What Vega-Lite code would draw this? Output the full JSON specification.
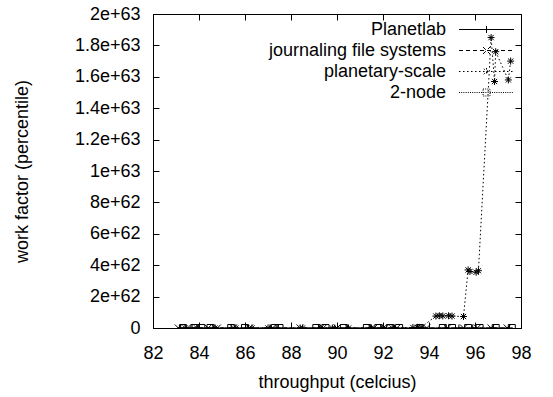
{
  "$schema": "https://vega.github.io/schema/vega-lite/v6.json",
  "width": 368,
  "height": 314,
  "autosize": "none",
  "padding": {"left": 153, "top": 14, "right": 32, "bottom": 69},
  "background": "white",
  "config": {
    "view": {"stroke": "black", "strokeWidth": 1},
    "font": "Liberation Sans",
    "axis": {"grid": false, "domainColor": "black", "tickColor": "black", "labelColor": "black", "titleColor": "black", "labelFont": "Liberation Sans", "titleFont": "Liberation Sans", "labelFontSize": 18, "titleFontSize": 18, "titleFontWeight": "normal", "tickSize": -6, "domainWidth": 1, "tickWidth": 1}
  },
  "data": {"values": [
    {"series": "Planetlab", "i": 1, "x": 83.2, "y": 0},
    {"series": "Planetlab", "i": 2, "x": 83.7, "y": 0},
    {"series": "Planetlab", "i": 3, "x": 84.0, "y": 0},
    {"series": "Planetlab", "i": 4, "x": 84.6, "y": 0},
    {"series": "Planetlab", "i": 5, "x": 85.4, "y": 0},
    {"series": "Planetlab", "i": 6, "x": 86.1, "y": 0},
    {"series": "Planetlab", "i": 7, "x": 87.1, "y": 0},
    {"series": "Planetlab", "i": 8, "x": 87.4, "y": 0},
    {"series": "Planetlab", "i": 9, "x": 88.4, "y": 0},
    {"series": "Planetlab", "i": 10, "x": 89.2, "y": 0},
    {"series": "Planetlab", "i": 11, "x": 89.9, "y": 0},
    {"series": "Planetlab", "i": 12, "x": 90.4, "y": 0},
    {"series": "Planetlab", "i": 13, "x": 91.4, "y": 0},
    {"series": "Planetlab", "i": 14, "x": 91.9, "y": 0},
    {"series": "Planetlab", "i": 15, "x": 92.5, "y": 0},
    {"series": "Planetlab", "i": 16, "x": 93.7, "y": 0},
    {"series": "Planetlab", "i": 17, "x": 94.7, "y": 0},
    {"series": "Planetlab", "i": 18, "x": 95.3, "y": 0},
    {"series": "Planetlab", "i": 19, "x": 95.9, "y": 0},
    {"series": "Planetlab", "i": 20, "x": 96.8, "y": 0},
    {"series": "Planetlab", "i": 21, "x": 97.5, "y": 0},
    {"series": "journaling file systems", "i": 1, "x": 83.1, "y": 0},
    {"series": "journaling file systems", "i": 2, "x": 83.5, "y": 0},
    {"series": "journaling file systems", "i": 3, "x": 84.4, "y": 0},
    {"series": "journaling file systems", "i": 4, "x": 84.8, "y": 0},
    {"series": "journaling file systems", "i": 5, "x": 85.5, "y": 0},
    {"series": "journaling file systems", "i": 6, "x": 86.2, "y": 0},
    {"series": "journaling file systems", "i": 7, "x": 87.2, "y": 0},
    {"series": "journaling file systems", "i": 8, "x": 88.4, "y": 0},
    {"series": "journaling file systems", "i": 9, "x": 89.4, "y": 0},
    {"series": "journaling file systems", "i": 10, "x": 90.0, "y": 0},
    {"series": "journaling file systems", "i": 11, "x": 91.6, "y": 0},
    {"series": "journaling file systems", "i": 12, "x": 92.1, "y": 0},
    {"series": "journaling file systems", "i": 13, "x": 92.6, "y": 0},
    {"series": "journaling file systems", "i": 14, "x": 93.9, "y": 0},
    {"series": "journaling file systems", "i": 15, "x": 94.8, "y": 0},
    {"series": "journaling file systems", "i": 16, "x": 95.5, "y": 0},
    {"series": "journaling file systems", "i": 17, "x": 96.1, "y": 0},
    {"series": "journaling file systems", "i": 18, "x": 96.7, "y": 0},
    {"series": "journaling file systems", "i": 19, "x": 97.4, "y": 0},
    {"series": "planetary-scale", "i": 1, "x": 83.4, "y": 0},
    {"series": "planetary-scale", "i": 2, "x": 83.9, "y": 0},
    {"series": "planetary-scale", "i": 3, "x": 84.7, "y": 0},
    {"series": "planetary-scale", "i": 4, "x": 85.6, "y": 0},
    {"series": "planetary-scale", "i": 5, "x": 86.3, "y": 0},
    {"series": "planetary-scale", "i": 6, "x": 87.0, "y": 0},
    {"series": "planetary-scale", "i": 7, "x": 88.5, "y": 0},
    {"series": "planetary-scale", "i": 8, "x": 89.3, "y": 0},
    {"series": "planetary-scale", "i": 9, "x": 89.8, "y": 0},
    {"series": "planetary-scale", "i": 10, "x": 90.5, "y": 0},
    {"series": "planetary-scale", "i": 11, "x": 91.5, "y": 0},
    {"series": "planetary-scale", "i": 12, "x": 92.0, "y": 0},
    {"series": "planetary-scale", "i": 13, "x": 92.4, "y": 0},
    {"series": "planetary-scale", "i": 14, "x": 93.3, "y": 3e60},
    {"series": "planetary-scale", "i": 15, "x": 93.5, "y": 4e60},
    {"series": "planetary-scale", "i": 16, "x": 93.65, "y": 3e60},
    {"series": "planetary-scale", "i": 17, "x": 94.3, "y": 7.6e61},
    {"series": "planetary-scale", "i": 18, "x": 94.45, "y": 7.8e61},
    {"series": "planetary-scale", "i": 19, "x": 94.6, "y": 7.7e61},
    {"series": "planetary-scale", "i": 20, "x": 94.85, "y": 7.8e61},
    {"series": "planetary-scale", "i": 21, "x": 95.0, "y": 7.6e61},
    {"series": "planetary-scale", "i": 22, "x": 95.5, "y": 7.3e61},
    {"series": "planetary-scale", "i": 23, "x": 95.7, "y": 3.7e62},
    {"series": "planetary-scale", "i": 24, "x": 95.78, "y": 3.6e62},
    {"series": "planetary-scale", "i": 25, "x": 96.05, "y": 3.55e62},
    {"series": "planetary-scale", "i": 26, "x": 96.15, "y": 3.65e62},
    {"series": "planetary-scale", "i": 27, "x": 96.7, "y": 1.85e63},
    {"series": "planetary-scale", "i": 28, "x": 96.85, "y": 1.57e63},
    {"series": "planetary-scale", "i": 29, "x": 96.9, "y": 1.76e63},
    {"series": "planetary-scale", "i": 30, "x": 97.45, "y": 1.58e63},
    {"series": "planetary-scale", "i": 31, "x": 97.55, "y": 1.7e63},
    {"series": "2-node", "i": 1, "x": 83.3, "y": 0},
    {"series": "2-node", "i": 2, "x": 83.8, "y": 0},
    {"series": "2-node", "i": 3, "x": 84.1, "y": 0},
    {"series": "2-node", "i": 4, "x": 84.5, "y": 0},
    {"series": "2-node", "i": 5, "x": 85.4, "y": 0},
    {"series": "2-node", "i": 6, "x": 86.0, "y": 0},
    {"series": "2-node", "i": 7, "x": 87.3, "y": 0},
    {"series": "2-node", "i": 8, "x": 87.5, "y": 0},
    {"series": "2-node", "i": 9, "x": 89.1, "y": 0},
    {"series": "2-node", "i": 10, "x": 89.5, "y": 0},
    {"series": "2-node", "i": 11, "x": 90.3, "y": 0},
    {"series": "2-node", "i": 12, "x": 91.3, "y": 0},
    {"series": "2-node", "i": 13, "x": 91.8, "y": 0},
    {"series": "2-node", "i": 14, "x": 92.3, "y": 0},
    {"series": "2-node", "i": 15, "x": 92.7, "y": 0},
    {"series": "2-node", "i": 16, "x": 93.6, "y": 0},
    {"series": "2-node", "i": 17, "x": 94.6, "y": 0},
    {"series": "2-node", "i": 18, "x": 95.0, "y": 0},
    {"series": "2-node", "i": 19, "x": 95.7, "y": 0},
    {"series": "2-node", "i": 20, "x": 96.2, "y": 0},
    {"series": "2-node", "i": 21, "x": 96.9, "y": 0},
    {"series": "2-node", "i": 22, "x": 97.6, "y": 0}
  ]},
  "layer": [
    {
      "mark": {"type": "line", "color": "black", "strokeWidth": 1, "clip": true},
      "encoding": {
        "x": {"field": "x", "type": "quantitative", "scale": {"domain": [82, 98], "nice": false, "zero": false},
              "axis": {"orient": "bottom", "values": [82, 84, 86, 88, 90, 92, 94, 96, 98], "labelPadding": 22, "title": "throughput (celcius)", "titleY": 54, "titleBaseline": "middle", "labelFlush": false}},
        "y": {"field": "y", "type": "quantitative", "scale": {"domain": [0, 2e63], "nice": false},
              "axis": {"orient": "left", "values": [0, 2e62, 4e62, 6e62, 8e62, 1e63, 1.2e63, 1.4e63, 1.6e63, 1.8e63, 2e63], "labelExpr": "datum.value == 0 ? '0' : format(datum.value, '~e')", "labelPadding": 19, "title": "work factor (percentile)", "titleX": -131, "titleBaseline": "middle", "labelFlush": false}},
        "order": {"field": "i", "type": "quantitative"},
        "strokeDash": {"field": "series", "type": "nominal",
          "scale": {"domain": ["Planetlab", "journaling file systems", "planetary-scale", "2-node"], "range": [[1, 0], [4, 3], [1.5, 2.5], [1, 1.2]]},
          "legend": {"orient": "none", "legendX": 324.5, "legendY": 6.5, "title": null, "symbolSize": 100, "labelAlign": "right", "labelOffset": -49.5, "labelFontSize": 18, "labelFont": "Liberation Sans", "labelColor": "black", "rowPadding": 3, "padding": 0, "symbolStrokeColor": "black", "symbolStrokeWidth": 1, "symbolFillColor": "transparent", "symbolOpacity": 1, "labelLimit": 400,
            "symbolType": {"expr": "datum.value === 'Planetlab' ? 'M-5.5,0H5.5M0,-0.7V0.7' : datum.value === 'journaling file systems' ? 'M-5.5,0H5.5M-0.7,-0.7L0.7,0.7M-0.7,0.7L0.7,-0.7' : datum.value === 'planetary-scale' ? 'M-5.5,0H5.5M0,-0.7V0.7M-0.55,-0.55L0.55,0.55M-0.55,0.55L0.55,-0.55' : 'M-5.5,0H5.5M-0.7,-0.7H0.7V0.7H-0.7Z'"}}
        }
      }
    },
    {
      "transform": [{"filter": {"field": "series", "equal": "Planetlab"}}],
      "mark": {"type": "point", "filled": false, "stroke": "black", "strokeWidth": 1, "size": 49, "opacity": 1, "clip": true, "shape": "M-1,0H1M0,-1V1"},
      "encoding": {
        "x": {"field": "x", "type": "quantitative", "axis": {"orient": "top", "values": [82, 84, 86, 88, 90, 92, 94, 96, 98], "labels": false, "title": null, "domain": false}},
        "y": {"field": "y", "type": "quantitative", "axis": {"orient": "right", "values": [0, 2e62, 4e62, 6e62, 8e62, 1e63, 1.2e63, 1.4e63, 1.6e63, 1.8e63, 2e63], "labels": false, "title": null, "domain": false}}
      }
    },
    {
      "transform": [{"filter": {"field": "series", "equal": "journaling file systems"}}],
      "mark": {"type": "point", "filled": false, "stroke": "black", "strokeWidth": 1, "size": 49, "opacity": 1, "clip": true, "shape": "M-1,-1L1,1M-1,1L1,-1"},
      "encoding": {
        "x": {"field": "x", "type": "quantitative", "axis": null},
        "y": {"field": "y", "type": "quantitative", "axis": null}
      }
    },
    {
      "transform": [{"filter": {"field": "series", "equal": "planetary-scale"}}],
      "mark": {"type": "point", "filled": false, "stroke": "black", "strokeWidth": 1, "size": 49, "opacity": 1, "clip": true, "shape": "M-1,0H1M0,-1V1M-0.75,-0.75L0.75,0.75M-0.75,0.75L0.75,-0.75"},
      "encoding": {
        "x": {"field": "x", "type": "quantitative", "axis": null},
        "y": {"field": "y", "type": "quantitative", "axis": null}
      }
    },
    {
      "transform": [{"filter": {"field": "series", "equal": "2-node"}}],
      "mark": {"type": "point", "filled": false, "stroke": "black", "strokeWidth": 1, "size": 49, "opacity": 1, "clip": true, "shape": "M-1,-1H1V1H-1Z"},
      "encoding": {
        "x": {"field": "x", "type": "quantitative", "axis": null},
        "y": {"field": "y", "type": "quantitative", "axis": null}
      }
    }
  ],
  "resolve": {"axis": {"x": "independent", "y": "independent"}}
}
